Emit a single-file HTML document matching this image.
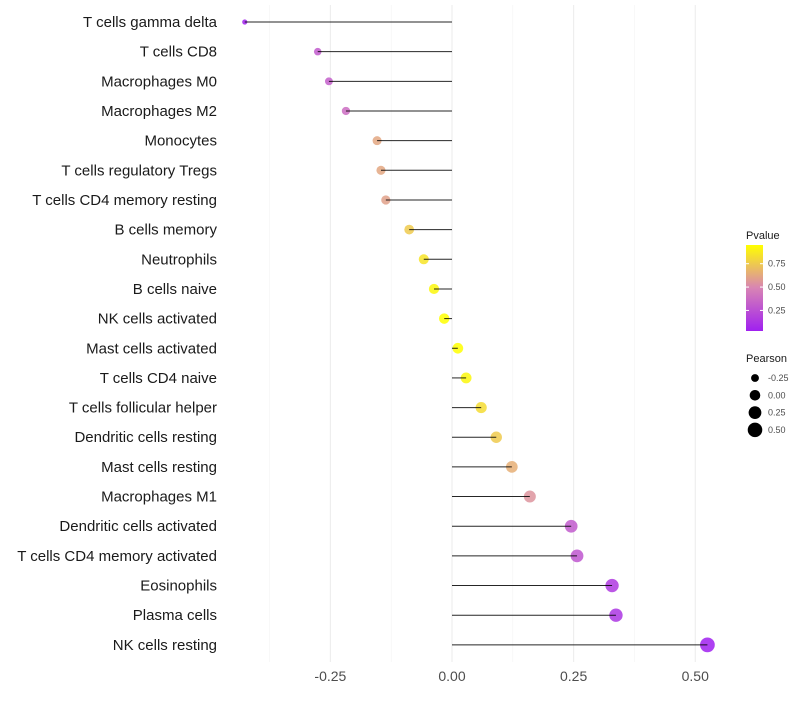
<!DOCTYPE html>
<html><head><meta charset="utf-8"><style>
body{margin:0;background:#fff;font-family:"Liberation Sans",sans-serif;}
svg text{font-family:"Liberation Sans",sans-serif;}
</style></head><body>
<svg id="chart" width="800" height="700">
<defs><linearGradient id="pg" x1="0" y1="1" x2="0" y2="0">
<stop offset="0" stop-color="#A020F0"/><stop offset="0.5" stop-color="#D884B4"/><stop offset="1" stop-color="#FFFF00"/>
</linearGradient></defs>
<g id="grid"></g><g id="points"></g><g id="marks"></g><g id="labels"></g><g id="legend"></g>
</svg>
<script>
const categories=["T cells gamma delta","T cells CD8","Macrophages M0","Macrophages M2","Monocytes","T cells regulatory  Tregs","T cells CD4 memory resting","B cells memory","Neutrophils","B cells naive","NK cells activated","Mast cells activated","T cells CD4 naive","T cells follicular helper","Dendritic cells resting","Mast cells resting","Macrophages M1","Dendritic cells activated","T cells CD4 memory activated","Eosinophils","Plasma cells","NK cells resting"];
const pearson=[-0.426,-0.276,-0.253,-0.218,-0.154,-0.146,-0.136,-0.088,-0.058,-0.037,-0.016,0.012,0.029,0.060,0.091,0.123,0.160,0.245,0.257,0.329,0.337,0.525];
const pvalue=[0.04,0.3,0.32,0.38,0.62,0.62,0.6,0.75,0.85,0.92,0.95,0.95,0.92,0.82,0.75,0.65,0.55,0.3,0.28,0.15,0.13,0.03];
const xTicks=[-0.25,0,0.25,0.5];
const xTickLabels=["-0.25","0.00","0.25","0.50"];
const legendP=[0.25,0.5,0.75];
const legendR=[-0.25,0,0.25,0.5];
const NS="http://www.w3.org/2000/svg";
const X=v=>452+v*486.5;
const Y=i=>22+i*29.66;
const R=v=>Math.sqrt(Math.max(3,28+50*v));
function lerp(a,b,t){return a.map((x,i)=>Math.round(x+(b[i]-x)*t));}
function col(p){const lo=[160,32,240],mid=[216,132,180],hi=[255,255,0];const t=Math.max(0,Math.min(1,(p-0.03)/0.92));const c=t<0.5?lerp(lo,mid,t*2):lerp(mid,hi,(t-0.5)*2);return `rgb(${c})`;}
function mk(tag,attrs,parent,text){const e=document.createElementNS(NS,tag);for(const k in attrs)e.setAttribute(k,attrs[k]);if(text!==undefined)e.textContent=text;parent.appendChild(e);return e;}
const grid=document.getElementById('grid'),marks=document.getElementById('marks'),pts=document.getElementById('points'),labels=document.getElementById('labels'),legend=document.getElementById('legend');
[-0.375,-0.125,0.125,0.375].forEach(v=>{const l=mk('line',{x1:X(v),x2:X(v),y1:5,y2:662,stroke:'#f3f3f3','stroke-width':0.6},grid);

});
xTicks.forEach((v,i)=>{const l=mk('line',{x1:X(v),x2:X(v),y1:5,y2:662,stroke:'#ebebeb','stroke-width':1},grid);


const t=mk('text',{x:X(v),y:681,'text-anchor':'middle','font-size':14,fill:'#4d4d4d'},labels,xTickLabels[i]);

});
categories.forEach((c,i)=>{const y=Y(i);
const t=mk('text',{x:217,y:y+5,'text-anchor':'end','font-size':15,fill:'#1a1a1a'},labels,c);


const p=mk('circle',{cx:X(pearson[i]),cy:y,r:R(pearson[i]),fill:col(pvalue[i]),'fill-opacity':0.85},pts);


const l=mk('line',{x1:X(0),x2:X(pearson[i]),y1:y,y2:y,stroke:'#000','stroke-width':1,'stroke-opacity':0.85},marks);

});
let t=mk('text',{x:746,y:239,'font-size':11,fill:'#1a1a1a'},legend,'Pvalue');


const bar=mk('rect',{x:746,y:245,width:17,height:86,fill:'url(#pg)'},legend);


const PY=p=>331-(p-0.03)/0.92*86;
legendP.forEach(p=>{mk('line',{x1:746,x2:749,y1:PY(p),y2:PY(p),stroke:'#fff'},legend);mk('line',{x1:760,x2:763,y1:PY(p),y2:PY(p),stroke:'#fff'},legend);
const tt=mk('text',{x:768,y:PY(p)+3,'font-size':9,fill:'#4d4d4d'},legend,p.toFixed(2));

});
t=mk('text',{x:746,y:362,'font-size':11,fill:'#1a1a1a'},legend,'Pearson');


legendR.forEach((v,i)=>{const y=378+i*17.3;
const c=mk('circle',{cx:755,cy:y,r:R(v),fill:'#000'},legend);


const tt=mk('text',{x:768,y:y+3,'font-size':9,fill:'#4d4d4d'},legend,v.toFixed(2));

});
</script>
</body></html>
